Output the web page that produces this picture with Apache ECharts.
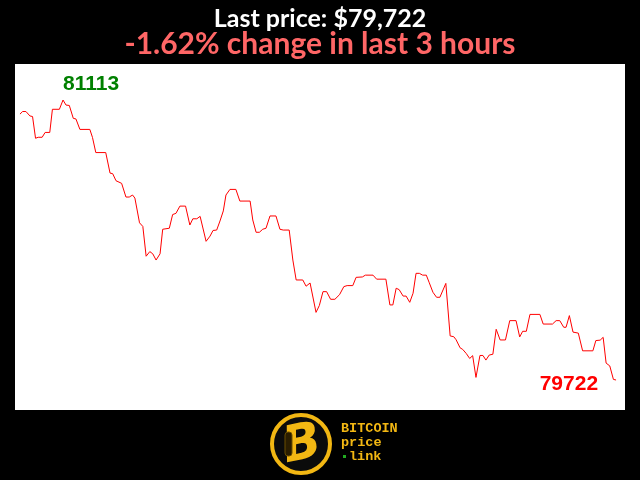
<!DOCTYPE html>
<html>
<head>
<meta charset="utf-8">
<script src="https://cdn.jsdelivr.net/npm/echarts@6/dist/echarts.min.js"></script>
<style>
html,body{margin:0;padding:0;background:#000;}
#chart{width:640px;height:480px;}
</style>
</head>
<body>
<div id="chart"></div>
<script>
// minutes since start of the 3-hour window
const minutes = [0,0.8,1.8,3.0,3.8,4.7,5.5,6.7,7.6,9.0,9.8,11.9,13.0,13.9,14.9,16.1,16.9,18.1,21.1,21.9,
22.9,25.9,27.2,28.0,29.0,30.7,31.2,32.0,33.0,34.0,34.7,36.1,37.1,38.1,39.2,40.1,41.1,42.3,43.1,45.1,
46.1,47.1,48.3,50.0,51.3,52.2,53.4,54.4,56.2,57.4,58.3,59.4,60.4,61.4,62.2,63.4,65.2,66.4,69.5,70.3,
71.3,72.3,73.3,74.3,75.5,77.3,78.5,79.5,81.3,82.4,83.4,85.4,86.4,87.6,89.4,90.4,91.5,92.6,93.8,95.1,
96.5,97.8,98.8,100.5,101.5,103.4,104.3,106.6,107.7,110.5,111.7,112.6,113.6,114.5,115.7,116.6,117.7,118.7,119.6,120.6,
121.6,122.7,123.6,124.7,125.8,126.8,128.6,129.9,131.0,131.7,132.9,133.7,134.8,135.8,136.7,137.7,138.9,139.8,140.7,141.7,
142.8,143.8,145.0,146.6,147.9,149.8,150.9,151.8,152.9,154.0,157.0,158.0,160.8,161.9,163.0,164.2,164.9,165.9,167.0,168.6,
169.9,173.0,173.9,175.2,176.1,177.0,178.1,179.2,180.0];
const prices = [81043,81056,81056,81034,81031,80923,80928,80928,80952,80952,81067,81067,81113,81088,81086,81022,81019,80967,80967,80927,
80852,80852,80750,80747,80712,80699,80696,80631,80631,80641,80626,80503,80485,80337,80360,80349,80318,80349,80471,80476,
80544,80550,80586,80586,80492,80523,80523,80535,80411,80437,80465,80467,80512,80562,80641,80669,80669,80611,80611,80517,
80456,80456,80471,80476,80537,80537,80471,80467,80467,80318,80219,80219,80188,80204,80058,80092,80161,80161,80123,80123,
80146,80186,80191,80191,80232,80234,80243,80243,80223,80223,80095,80095,80178,80171,80139,80139,80108,80153,80252,80252,
80243,80243,80205,80158,80133,80133,80202,79941,79937,79922,79882,79874,79853,79829,79843,79735,79844,79844,79821,79846,
79850,79974,79921,79921,80017,80017,79936,79964,79964,80048,80048,80000,80000,80017,80017,79984,79984,80042,79960,79955,
79867,79867,79918,79920,79934,79806,79792,79725,79722];
const titleLine1 = 'Last price: $79,722';
const titleLine2 = '-1.62% change in last 3 hours';

const data = minutes.map((m, i) => [m, prices[i]]);
const lastIdx = prices.length - 1;
let maxIdx = 0;
prices.forEach((p, i) => { if (p > prices[maxIdx]) maxIdx = i; });

const chart = echarts.init(document.getElementById('chart'), null, {renderer: 'canvas'});
const titleFont = 'Lato, "Noto Sans", sans-serif';
const labelFont = '"Liberation Sans", Arial, sans-serif';
const gold = '#f2b713';
const mono = 'bold 13.5px "Liberation Mono", "DejaVu Sans Mono", monospace';
chart.setOption({
  backgroundColor: '#000',
  animation: false,
  title: [
    {text: titleLine1, left: 'center', top: 1,
     textStyle: {color: '#ffffff', fontSize: 25, fontWeight: 'bold', fontFamily: titleFont}},
    {text: titleLine2, left: 'center', top: 24,
     textStyle: {color: '#ff6666', fontSize: 30, fontWeight: 'bold', fontFamily: titleFont}}
  ],
  grid: {left: 15, right: 15, top: 64, bottom: 70, show: true, backgroundColor: '#ffffff', borderWidth: 0},
  xAxis: {type: 'value', min: -1.5, max: 182.7, show: false},
  yAxis: {type: 'value', min: 79573, max: 81292, show: false},
  series: [{
    type: 'line',
    data: data,
    showSymbol: false,
    symbol: 'none',
    lineStyle: {color: '#ff0000', width: 1},
    markPoint: {
      symbol: 'circle',
      symbolSize: 0,
      data: [
        {coord: data[maxIdx], value: prices[maxIdx],
         label: {show: true, position: [0, -16], align: 'left', verticalAlign: 'middle',
                 color: '#008000', fontSize: 21, fontWeight: 'bold', fontFamily: labelFont}},
        {coord: data[lastIdx], value: prices[lastIdx],
         label: {show: true, position: [-18, 4], align: 'right', verticalAlign: 'middle',
                 color: '#ff0000', fontSize: 21, fontWeight: 'bold', fontFamily: labelFont}}
      ]
    }
  }],
  graphic: [
    {type: 'circle', shape: {cx: 301, cy: 444, r: 29}, style: {fill: '#0b0b0b', stroke: gold, lineWidth: 4}},
    {type: 'text', x: 302, y: 446, rotation: 0.2, style: {text: 'B', fill: gold, font: 'bold italic 50px "DejaVu Sans", sans-serif', align: 'center', verticalAlign: 'middle'}},
    {type: 'rect', shape: {x: 285, y: 432, width: 7, height: 24, r: 3}, style: {fill: '#2a1d00', stroke: '#6b4e00', lineWidth: 1}},
    {type: 'text', x: 341, y: 429, style: {text: 'BITCOIN', fill: gold, font: mono, align: 'left', verticalAlign: 'middle'}},
    {type: 'text', x: 341, y: 443, style: {text: 'price', fill: gold, font: mono, align: 'left', verticalAlign: 'middle'}},
    {type: 'text', x: 349, y: 457, style: {text: 'link', fill: gold, font: mono, align: 'left', verticalAlign: 'middle'}},
    {type: 'rect', shape: {x: 343, y: 455, width: 3, height: 3}, style: {fill: '#22aa22'}}
  ]
});
</script>
</body>
</html>
